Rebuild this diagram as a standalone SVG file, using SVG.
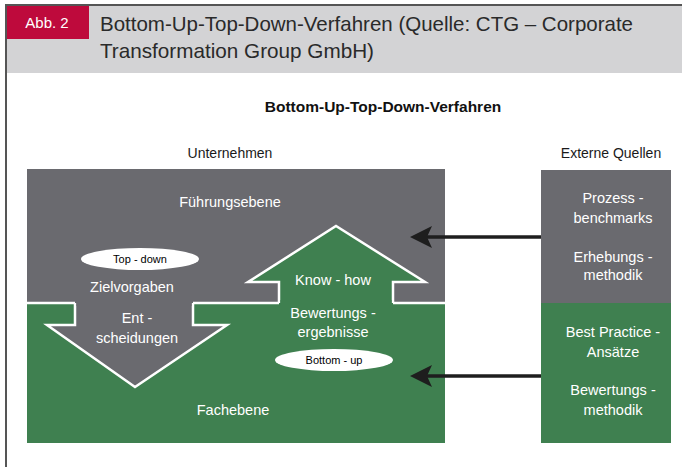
<svg xmlns="http://www.w3.org/2000/svg" width="682" height="467" viewBox="0 0 682 467">
<defs>
<style>
text{font-family:"Liberation Sans Narrow","Liberation Sans",sans-serif}
.w{fill:#fff;font-size:14.5px;text-anchor:middle}
.b{fill:#1a1a1a;font-size:14px;text-anchor:middle}
.s{fill:#000;font-size:11px;text-anchor:middle}
.gray{fill:#6a6a6f}
.green{fill:#3f8050}
.out{stroke:#fff;stroke-width:2.5;stroke-linejoin:miter}
.conn{stroke:#1e1e1e;stroke-width:3.5;fill:none}
.head{fill:#1e1e1e}
</style>
</defs>
<rect x="0" y="0" width="682" height="467" fill="#fff"/>
<g id="header">
<rect x="6" y="5" width="676" height="68" fill="#d3d3d5"/>
<rect x="6" y="5" width="83" height="34" fill="#be0a3c"/>
<text x="47" y="28" fill="#fff" font-size="15" text-anchor="middle">Abb. 2</text>
<text x="100" y="31" fill="#2a2a2a" font-size="21" textLength="533" lengthAdjust="spacingAndGlyphs">Bottom-Up-Top-Down-Verfahren (Quelle: CTG – Corporate</text>
<text x="100" y="58" fill="#2a2a2a" font-size="21" textLength="274" lengthAdjust="spacingAndGlyphs">Transformation Group GmbH)</text>
<path d="M6 467 V5 H682" fill="none" stroke="#555" stroke-width="2"/>
</g>
<g id="titles">
<text x="383" y="112" fill="#111" font-size="15.5" font-weight="bold" text-anchor="middle">Bottom-Up-Top-Down-Verfahren</text>
<text class="b" x="230" y="158">Unternehmen</text>
<text class="b" x="611" y="158">Externe Quellen</text>
</g>
<g id="fuehrungsebene">
<rect class="gray" x="27" y="169" width="418" height="134"/>
<text class="w" x="230" y="207">Führungsebene</text>
</g>
<g id="fachebene">
<rect class="green" x="27" y="303" width="418" height="140"/>
<text class="w" x="233" y="415">Fachebene</text>
</g>
<g id="boundary">
<path d="M27 303 H75 M193 303 H279 M393 303 H445" stroke="#fff" stroke-width="2.5"/>
</g>
<g id="top-down">
<path class="gray out" d="M75 303 V325 H47 L135 387 L227 325 H193 V303"/>
<rect class="gray" x="76.5" y="300" width="115" height="6"/>
<ellipse cx="140" cy="259" rx="59" ry="11" fill="#fff"/>
<text class="s" x="140" y="263">Top - down</text>
<text class="w" x="132" y="292">Zielvorgaben</text>
<text class="w" x="137" y="323">Ent -</text>
<text class="w" x="137" y="343">scheidungen</text>
</g>
<g id="bottom-up">
<path class="green out" d="M279 303 V282 H248 L336 226 L425 282 H393 V303"/>
<rect class="green" x="280.5" y="300" width="111" height="6"/>
<ellipse cx="334" cy="360" rx="59" ry="11" fill="#fff"/>
<text class="s" x="334" y="364">Bottom - up</text>
<text class="w" x="333" y="285">Know - how</text>
<text class="w" x="333" y="318">Bewertungs -</text>
<text class="w" x="333" y="337">ergebnisse</text>
</g>
<g id="externe-grau">
<rect class="gray" x="541" y="170" width="130" height="133"/>
<text class="w" x="613" y="203">Prozess -</text>
<text class="w" x="613" y="223">benchmarks</text>
<text class="w" x="613" y="262">Erhebungs -</text>
<text class="w" x="613" y="280">methodik</text>
</g>
<g id="externe-gruen">
<rect class="green" x="541" y="303" width="130" height="140"/>
<text class="w" x="613" y="337">Best Practice -</text>
<text class="w" x="613" y="357">Ansätze</text>
<text class="w" x="613" y="395">Bewertungs -</text>
<text class="w" x="613" y="415">methodik</text>
</g>
<g id="connectors">
<path class="conn" d="M541 237 H426"/>
<path class="head" d="M410 237 L432 226 L427 237 L432 248 Z"/>
<path class="conn" d="M541 376 H426"/>
<path class="head" d="M410 376 L432 365 L427 376 L432 387 Z"/>
</g>
</svg>
